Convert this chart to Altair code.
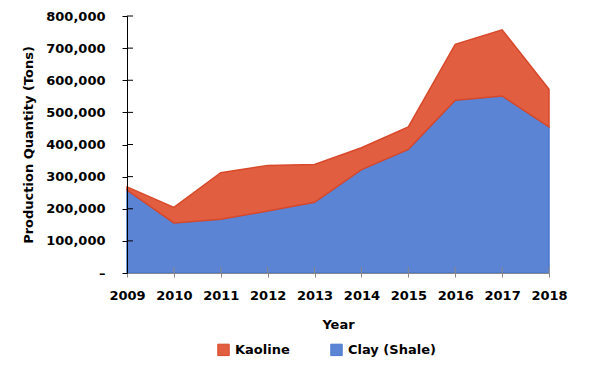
import altair as alt
import pandas as pd

years = [2009, 2010, 2011, 2012, 2013, 2014, 2015, 2016, 2017, 2018]
clay = [258000, 156000, 167000, 193000, 220000, 322000, 385000, 538000, 551000, 455000]
kaoline = [10000, 48000, 145000, 142000, 118000, 68000, 70000, 174000, 206000, 117000]
series_names = ["Kaoline", "Clay (Shale)"]
fill_colors = ["#E15F40", "#5B85D4"]
stroke_colors = ["#D8482A", "#4A78D0"]
y_ticks = [0, 100000, 200000, 300000, 400000, 500000, 600000, 700000, 800000]

rows = []
for i, yr in enumerate(years):
    rows.append({"Year": yr, "Series": "Clay (Shale)", "Value": clay[i], "ord": 0})
    rows.append({"Year": yr, "Series": "Kaoline", "Value": kaoline[i], "ord": 1})
df = pd.DataFrame(rows)

W, H = 422, 257
FONT = "DejaVu Sans"

x_scale = alt.Scale(domain=[2009, 2018], nice=False, zero=False)
y_scale = alt.Scale(domain=[0, 800000], nice=False)

x_axis = alt.Axis(values=years, labelExpr="format(datum.value, 'd')", title="Year",
                  labelFlush=False, labelOverlap=False,
                  domainColor="#888888", tickColor="#888888", tickSize=4,
                  labelPadding=12, titlePadding=16, zindex=1)
y_axis = alt.Axis(values=y_ticks,
                  labelExpr="datum.value == 0 ? '–' : format(datum.value, ',')",
                  labelOverlap=False,
                  title="Production Quantity (Tons)", domainColor="black",
                  tickColor="black", tickSize=5, labelPadding=17, titlePadding=10,
                  zindex=1)

legend = alt.Legend(orient="none", legendX=90, legendY=327, direction="horizontal",
                    title=None, symbolType="square", symbolSize=130,
                    symbolStrokeWidth=1, labelOffset=5, columnPadding=38,
                    padding=0)

area = alt.Chart(df).mark_area(strokeWidth=1.5, opacity=1).encode(
    x=alt.X("Year:Q", scale=x_scale, axis=x_axis),
    y=alt.Y("Value:Q", stack="zero", scale=y_scale, axis=y_axis),
    color=alt.Color("Series:N", scale=alt.Scale(domain=series_names, range=fill_colors),
                    legend=legend),
    stroke=alt.Stroke("Series:N", scale=alt.Scale(domain=series_names, range=stroke_colors),
                      legend=legend),
    order=alt.Order("ord:Q"),
)

ytick_df = pd.DataFrame({"Value": y_ticks[1:]})
ytick_rules = alt.Chart(ytick_df).mark_rule(color="black", strokeWidth=1).encode(
    y=alt.Y("Value:Q", scale=y_scale, axis=y_axis),
    x=alt.value(0),
    x2=alt.value(6),
)

xtick_df = pd.DataFrame({"Year": years[1:]})
xtick_rules = alt.Chart(xtick_df).mark_rule(color="#888888", strokeWidth=1).encode(
    x=alt.X("Year:Q", scale=x_scale, axis=x_axis),
    y=alt.value(H - 6),
    y2=alt.value(H),
)

chart = alt.layer(area, ytick_rules, xtick_rules).properties(
    width=W, height=H, padding={"left": 14, "top": 2, "right": 10, "bottom": 5}
).configure_view(stroke=None).configure_axis(
    labelFont=FONT, labelFontSize=13, labelFontWeight="bold", labelColor="black",
    titleFont=FONT, titleFontSize=13, titleFontWeight="bold", titleColor="black",
    grid=False,
).configure_legend(
    labelFont=FONT, labelFontSize=13, labelFontWeight="bold", labelColor="black",
)

chart.save("out.html", embed_options={"renderer": "svg", "actions": False})
